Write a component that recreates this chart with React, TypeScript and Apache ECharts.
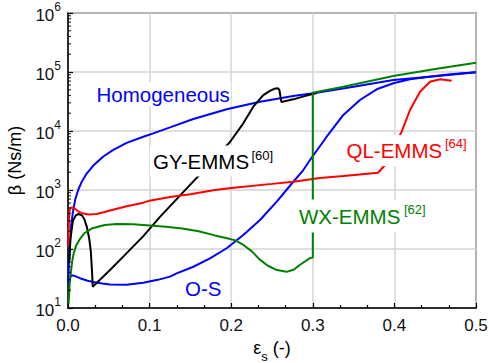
import React, { useEffect, useRef } from "react";
import * as echarts from "echarts";

const FONT = '"Liberation Sans", Arial, Helvetica, sans-serif';

// x: solid fraction, y: beta (Ns/m)
const homogeneous: [number, number][] = [
  [0.0005, 26], [0.001, 50], [0.002, 100], [0.004, 260], [0.0065, 470], [0.009, 700],
  [0.0125, 1000], [0.0165, 1350], [0.0229, 1900], [0.031, 2600], [0.0433, 3700],
  [0.0555, 4800], [0.0719, 6300], [0.0923, 8000], [0.1045, 9100], [0.125, 11500],
  [0.1536, 16000], [0.1945, 23300], [0.2353, 31400], [0.2761, 39200], [0.3048, 44600],
  [0.35, 56400], [0.3987, 73100], [0.45, 85100], [0.5, 99000],
];

const osModel: [number, number][] = [
  [0.0005, 24], [0.002, 32], [0.0045, 36], [0.008, 35], [0.0147, 32], [0.024, 29],
  [0.031, 27.5], [0.042, 26], [0.0515, 25], [0.0719, 24.8], [0.0923, 26.8], [0.11, 30],
  [0.125, 34], [0.1332, 38.7], [0.1536, 50], [0.174, 69.5], [0.1945, 103], [0.2148, 173],
  [0.2353, 310], [0.2558, 634], [0.2761, 1380], [0.2884, 2180], [0.2966, 3220],
  [0.317, 8000], [0.3374, 18700], [0.3578, 33500], [0.3783, 50900], [0.3987, 64300],
  [0.4191, 75100], [0.44, 82500], [0.46, 89000], [0.48, 94000], [0.5, 99000],
];

const gyEmms: [number, number][] = [
  [0.0015, 60], [0.003, 150], [0.006, 300], [0.0095, 370], [0.013, 392], [0.017, 372],
  [0.02, 320], [0.023, 240], [0.026, 150], [0.028, 90], [0.0295, 40], [0.0303, 23],
  [0.031, 23], [0.0515, 44], [0.0719, 85], [0.0923, 165], [0.1127, 350], [0.1332, 700],
  [0.1536, 1400], [0.1658, 2100], [0.1985, 6500], [0.2148, 13500], [0.2271, 25800],
  [0.2393, 40700], [0.2475, 48000], [0.253, 52000], [0.257, 53000], [0.259, 50000],
  [0.2615, 31000], [0.2761, 34400], [0.29, 39000], [0.3048, 44000],
];

const qlEmms: [number, number][] = [
  [0.0002, 110], [0.0012, 300], [0.002, 470], [0.0045, 505], [0.007, 500], [0.012, 440],
  [0.017, 405], [0.025, 385], [0.035, 392], [0.045, 425], [0.0515, 450], [0.0719, 530],
  [0.0923, 610], [0.1, 660], [0.125, 760], [0.15, 850], [0.18, 1000], [0.2, 1080],
  [0.25, 1270], [0.2761, 1384], [0.3088, 1600], [0.3374, 1726], [0.38, 1963],
  [0.3885, 2650], [0.396, 4500], [0.4089, 9720], [0.4191, 22700], [0.4314, 46300],
  [0.4436, 68500], [0.4559, 75200], [0.4702, 71300],
];

const wxEmms: [number, number][] = [
  [0.0008, 12], [0.002, 25], [0.003, 35], [0.005, 60], [0.007, 85], [0.01, 115],
  [0.015, 150], [0.02, 185], [0.03, 225], [0.045, 255], [0.06, 265], [0.08, 262],
  [0.1, 250], [0.12, 238], [0.14, 222], [0.16, 200], [0.18, 170], [0.195, 152],
  [0.205, 140], [0.215, 117], [0.225, 92], [0.235, 66], [0.245, 52], [0.256, 44],
  [0.268, 41], [0.277, 45], [0.2843, 54], [0.2966, 70], [0.3, 72], [0.3, 44600],
  [0.3374, 56400], [0.3987, 85500], [0.45, 112000], [0.5, 144000],
];

const xTicks = { min: 0, max: 0.5, interval: 0.1 };
const yRange = { min: 10, max: 1000000 };
const yMinorTickValues: number[] = [];
for (let k = 1; k <= 5; k++) {
  for (let m = 2; m <= 9; m++) yMinorTickValues.push(m * Math.pow(10, k));
}

const labels = [
  { text: "Homogeneous", sup: "", color: "#0000ff", x: 96.5, y: 94, supX: 0, supY: 0, pad: [2, 1, 1, 1] },
  { text: "GY-EMMS", sup: "[60]", color: "#000000", x: 153, y: 161, supX: 251.5, supY: 155, pad: [5, 3, 5, 3] },
  { text: "QL-EMMS", sup: "[64]", color: "#ff0000", x: 346.5, y: 150.5, supX: 445, supY: 143.5, pad: [5, 3, 5, 3] },
  { text: "WX-EMMS", sup: "[62]", color: "#008000", x: 299, y: 216, supX: 404, supY: 209, pad: [6, 3, 6, 3] },
  { text: "O-S", sup: "", color: "#0000ff", x: 185, y: 288.5, supX: 0, supY: 0, pad: [2, 1, 2, 1] },
];

export default function App() {
  const ref = useRef<HTMLDivElement>(null);
  useEffect(() => {
    if (!ref.current) return;
    const chart = echarts.init(ref.current, null, { renderer: "svg" });
    const lineSeries = (name: string, data: [number, number][], color: string) => ({
      type: "line",
      name,
      data,
      showSymbol: false,
      symbol: "none",
      lineStyle: { color, width: 2 },
      itemStyle: { color },
      clip: true,
      z: 3,
    });
    const graphic: any[] = [];
    labels.forEach((l) => {
      graphic.push({
        type: "text",
        x: l.x - l.pad[3],
        y: l.y,
        z: 100,
        style: {
          text: l.text,
          fill: l.color,
          fontSize: 20.5,
          fontFamily: FONT,
          align: "left",
          verticalAlign: "middle",
          backgroundColor: "#ffffff",
          padding: l.pad,
        },
      });
      if (l.sup) {
        graphic.push({
          type: "text",
          x: l.supX,
          y: l.supY,
          z: 101,
          style: {
            text: l.sup,
            fill: l.color,
            fontSize: 13,
            fontFamily: FONT,
            align: "left",
            verticalAlign: "middle",
          },
        });
      }
    });
    chart.setOption({
      animation: false,
      backgroundColor: "#ffffff",
      grid: {
        left: 68,
        right: 13,
        top: 13,
        bottom: 55,
        show: true,
        borderColor: "#222",
        borderWidth: 1.5,
        containLabel: false,
        outerBoundsMode: "none",
      },
      xAxis: {
        type: "value",
        min: xTicks.min,
        max: xTicks.max,
        interval: xTicks.interval,
        name: "{a|ε}{sub|s}{a| (-)}",
        nameLocation: "middle",
        nameGap: 7,
        nameTextStyle: {
          rich: {
            a: { fontSize: 18, fontFamily: FONT, color: "#000", lineHeight: 30 },
            sub: { fontSize: 13, fontFamily: FONT, color: "#000", verticalAlign: "bottom", lineHeight: 13 },
          },
        },
        axisLine: { show: true, onZero: false, lineStyle: { color: "#000", width: 1.5 } },
        axisTick: { show: true, inside: true, length: 5, lineStyle: { color: "#000", width: 1.2 } },
        minorTick: { show: true, splitNumber: 3, length: 3, lineStyle: { color: "#000", width: 1.2 } },
        axisLabel: {
          formatter: (v: number) => v.toFixed(1),
          fontSize: 17,
          fontFamily: FONT,
          color: "#111",
          margin: 9,
        },
        splitLine: { show: true, lineStyle: { color: "#d4d4d4", width: 1.5 } },
      },
      yAxis: {
        type: "log",
        logBase: 10,
        min: yRange.min,
        max: yRange.max,
        name: "β (Ns/m)",
        nameLocation: "middle",
        nameGap: 44,
        nameRotate: 90,
        nameTextStyle: { fontSize: 18, fontFamily: FONT, color: "#000" },
        axisLine: { show: true, lineStyle: { color: "#000", width: 1.5 } },
        axisTick: { show: true, inside: true, length: 5, lineStyle: { color: "#000", width: 1.2 } },
        axisLabel: {
          formatter: (v: number) => `{b|10}{s|${Math.round(Math.log10(v))}}`,
          margin: 7,
          rich: {
            b: { fontSize: 17, fontFamily: FONT, color: "#111", lineHeight: 24, padding: [4, 0, 0, 0] },
            s: { fontSize: 12, fontFamily: FONT, color: "#111", verticalAlign: "top", lineHeight: 12 },
          },
        },
        splitLine: { show: true, lineStyle: { color: "#d4d4d4", width: 1.5 } },
      },
      series: [
        lineSeries("Homogeneous", homogeneous, "#0000ff"),
        lineSeries("O-S", osModel, "#0000ff"),
        lineSeries("GY-EMMS", gyEmms, "#000000"),
        lineSeries("QL-EMMS", qlEmms, "#ff0000"),
        lineSeries("WX-EMMS", wxEmms, "#008000"),
        {
          type: "scatter",
          data: yMinorTickValues.map((v) => [0, v]),
          symbol: "rect",
          symbolSize: [3, 1.2],
          symbolOffset: [1.5, 0],
          itemStyle: { color: "#000" },
          silent: true,
          clip: false,
          z: 4,
        },
      ],
      graphic,
    });
    return () => chart.dispose();
  }, []);
  return (
    <div
      ref={ref}
      style={{ position: "fixed", left: 0, top: 0, width: 489, height: 363, background: "#fff" }}
    />
  );
}
